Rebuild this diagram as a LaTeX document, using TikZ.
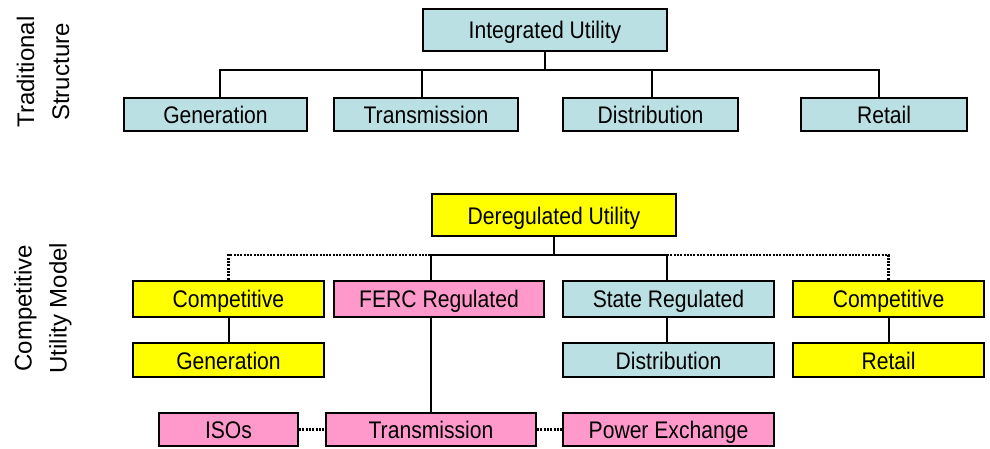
\documentclass[tikz,border=0pt]{standalone}
\usepackage{fontspec}
\setmainfont{Liberation Sans}
\newfontfamily\boxfont[FakeStretch=0.88]{Liberation Sans}
\definecolor{boxblue}{HTML}{BBE0E3}
\definecolor{boxyellow}{HTML}{FFFF00}
\definecolor{boxpink}{HTML}{FF99CC}
\tikzset{
  unit/.style={draw=black, line width=2pt, inner sep=0pt, text height=22pt, text depth=4pt,
    font=\boxfont\fontsize{24}{28}\selectfont},
  blue/.style={unit, fill=boxblue},
  yel/.style={unit, fill=boxyellow},
  pink/.style={unit, fill=boxpink},
  link/.style={line width=2pt},
  dotlink/.style={line width=2.4pt, dash pattern=on 2pt off 1.3pt},
  sidelabel/.style={rotate=90, align=center, font=\fontsize{24}{35}\selectfont}
}
\begin{document}
\begin{tikzpicture}[x=1pt,y=-1pt]
\useasboundingbox (0,0) rectangle (990,449);

% side captions
\node[sidelabel] (trad) at (43,72) {Traditional\\Structure};
\node[sidelabel] (comp) at (43,308) {Competitive\\Utility Model};

% traditional structure
\node[blue, minimum width=244pt, minimum height=42pt] (iu) at (545,30) {Integrated Utility};
\node[blue, minimum width=183pt, minimum height=33pt] (tgen) at (215.5,114.5) {Generation};
\node[blue, minimum width=184pt, minimum height=33pt] (ttra) at (426,114.5) {Transmission};
\node[blue, minimum width=175pt, minimum height=33pt] (tdis) at (650.5,114.5) {Distribution};
\node[blue, minimum width=166pt, minimum height=33pt] (tret) at (884,114.5) {Retail};

\coordinate (tbus) at (545,70);
\draw[link] (iu.south) -- (tbus);
\draw[link] ([xshift=4.5pt]tgen.north) |- (tbus) -| ([xshift=-5pt]tret.north);
\draw[link] ([xshift=-4pt]ttra.north) -- ([xshift=-4pt]ttra.north |- tbus);
\draw[link] ([xshift=1.5pt]tdis.north) -- ([xshift=1.5pt]tdis.north |- tbus);

% competitive utility model
\node[yel, minimum width=244pt, minimum height=42pt] (du) at (554,215) {Deregulated Utility};
\node[yel, minimum width=191pt, minimum height=36pt] (cl) at (228.5,298.5) {Competitive};
\node[pink, minimum width=210pt, minimum height=36pt] (ferc) at (439,298.5) {FERC Regulated};
\node[blue, minimum width=211pt, minimum height=36pt] (state) at (668.5,298.5) {State Regulated};
\node[yel, minimum width=191pt, minimum height=36pt] (cr) at (888.5,298.5) {Competitive};

\node[yel, minimum width=191pt, minimum height=34pt] (gen) at (228.5,360) {Generation};
\node[blue, minimum width=211pt, minimum height=34pt] (dis) at (668.5,360) {Distribution};
\node[yel, minimum width=191pt, minimum height=34pt] (ret) at (888.5,360) {Retail};

\node[pink, minimum width=139pt, minimum height=33pt] (iso) at (228.5,429.5) {ISOs};
\node[pink, minimum width=210pt, minimum height=33pt] (tra) at (431,429.5) {Transmission};
\node[pink, minimum width=211pt, minimum height=33pt] (px) at (668.5,429.5) {Power Exchange};

\coordinate (bus) at (554,255);
\coordinate (ferctap) at ([xshift=-8pt]ferc.north);
\coordinate (statetap) at ([xshift=-1.5pt]state.north);
\draw[link] (du.south) -- (bus);
\draw[link] (ferctap) |- (bus) -| (statetap);
\draw[dotlink] (cl.north) |- (ferctap |- bus);
\draw[dotlink] (statetap |- bus) -| (cr.north);

\draw[link] (cl.south) -- (gen.north);
\draw[link] ([xshift=-8pt]ferc.south) -- (tra.north);
\draw[link] ([xshift=-1.5pt]state.south) -- ([xshift=-1.5pt]dis.north);
\draw[link] (cr.south) -- (ret.north);

\draw[dotlink] (iso.east) -- (tra.west);
\draw[dotlink] (tra.east) -- (px.west);
\end{tikzpicture}
\end{document}
